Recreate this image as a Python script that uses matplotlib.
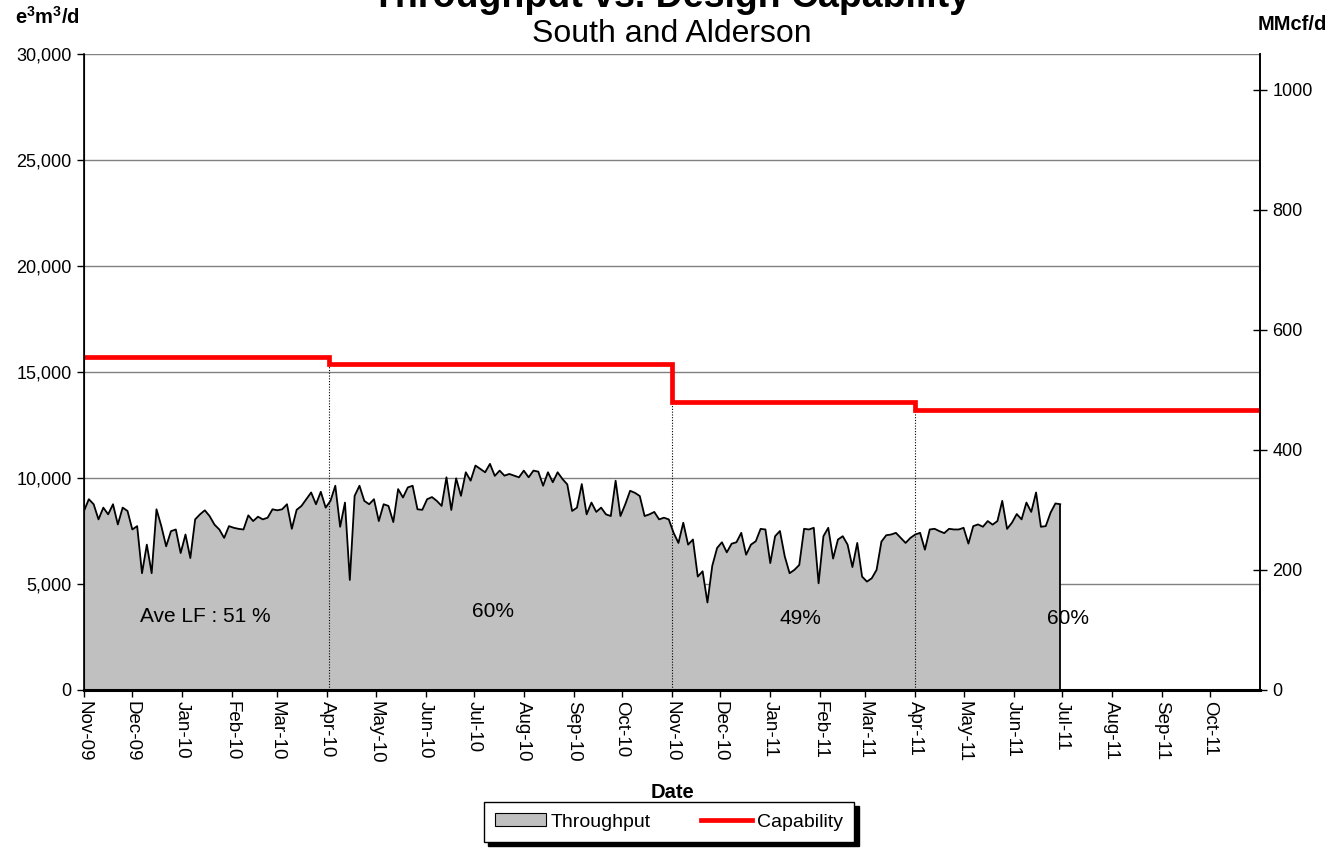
import numpy as np
import pandas as pd
import matplotlib
matplotlib.use("Agg")
import matplotlib.pyplot as plt
import matplotlib.dates as mdates
from matplotlib.patches import Patch
from matplotlib.lines import Line2D

plt.rcParams['font.family'] = ['Liberation Sans', 'DejaVu Sans']
plt.rcParams['mathtext.fontset'] = 'custom'
plt.rcParams['mathtext.rm'] = 'Liberation Sans'
plt.rcParams['mathtext.bf'] = 'Liberation Sans:bold'

# ---------------- data ----------------
throughput_start = "2009-11-01"
throughput_step_days = 3
throughput = [
    8445, 9000, 8762, 8048, 8603, 8286, 8762, 7810, 8603, 8445,
    7572, 7730, 5509, 6857, 5509, 8524, 7730, 6778, 7493, 7572,
    6461, 7334, 6223, 8048, 8286, 8476, 8200, 7800, 7572, 7175,
    7730, 7651, 7600, 7572, 8238, 7969, 8175, 8048, 8127, 8524,
    8476, 8524, 8762, 7604, 8500, 8683, 9000, 9318, 8762, 9349,
    8603, 8921, 9635, 7699, 8841, 5191, 9159, 9635, 8921, 8762,
    9000, 7969, 8762, 8683, 7921, 9476, 9080, 9556, 9635, 8524,
    8500, 9000, 9100, 8921, 8683, 10032, 8492, 9984, 9159, 10270,
    9873, 10587, 10429, 10270, 10667, 10100, 10349, 10111, 10190, 10111,
    10032, 10349, 10032, 10349, 10300, 9635, 10270, 9800, 10270, 9952,
    9700, 8445, 8600, 9714, 8286, 8841, 8400, 8603, 8286, 8206,
    9873, 8206, 8762, 9397, 9300, 9150, 8206, 8286, 8400, 8048,
    8127, 8048, 7413, 6937, 7890, 6857, 7100, 5350, 5600, 4128,
    5859, 6700, 6969, 6493, 6900, 6969, 7413, 6382, 6857, 7016,
    7600, 7572, 5986, 7255, 7500, 6302, 5509, 5668, 5900, 7604,
    7572, 7651, 5033, 7255, 7651, 6200, 7096, 7255, 6857, 5800,
    6937, 5350, 5113, 5271, 5668, 7000, 7300, 7334, 7413, 7175,
    6937, 7175, 7334, 7413, 6619, 7572, 7604, 7493, 7400, 7604,
    7572, 7572, 7651, 6905, 7730, 7810, 7700, 7969, 7800, 7969,
    8921, 7600, 7890, 8300, 8048, 8841, 8400, 9318, 7699, 7730,
    8365, 8800, 8762,
]

cap_dates = ["2009-11-01", "2010-04-02", "2010-11-01", "2011-04-01", "2011-11-01"]
cap_values = [15700, 15400, 13600, 13200, 13200]

lf_labels = ["Ave LF : 51 %", "60%", "49%", "60%"]
lf_dates = ["2010-01-15", "2010-07-13", "2011-01-20", "2011-07-05"]
lf_values = [3450, 3680, 3350, 3350]

x_start, x_end = "2009-11-01", "2011-11-01"
MMCF_PER_E3M3 = 0.0353147

# ---------------- figure ----------------
W, H = 1343, 867
fig = plt.figure(figsize=(W / 100, H / 100), dpi=100)
ax = fig.add_axes([84 / W, 1 - 690 / H, (1260 - 84) / W, (690 - 54) / H])

t_dates = pd.date_range(throughput_start, periods=len(throughput),
                        freq=f"{throughput_step_days}D")
t_vals = np.array(throughput, dtype=float)

ax.set_axisbelow(True)
ax.yaxis.grid(True, color="#808080", lw=1.0, zorder=0)

ax.fill_between(t_dates, 0, t_vals, facecolor="#C0C0C0", edgecolor="none", zorder=1)
ax.plot(t_dates, t_vals, color="black", lw=1.3, zorder=3)
ax.vlines(t_dates[-1], 0, t_vals[-1], color="black", lw=1.3, zorder=3)

cd = pd.to_datetime(cap_dates)
ax.step(cd, cap_values, where="post", color="#FF0000", lw=3.4, zorder=4,
        solid_joinstyle="miter")
for d, v in zip(cd[1:-1], cap_values[1:-1]):
    ax.vlines(d, 0, v, colors="black", linestyles=(0, (1, 1.5)), lw=0.8, zorder=3)

for lab, d, v in zip(lf_labels, pd.to_datetime(lf_dates), lf_values):
    ax.text(d, v, lab, ha="center", va="center", fontsize=15, zorder=5)

ax.set_xlim(pd.Timestamp(x_start), pd.Timestamp(x_end))
ax.set_ylim(0, 30000)
ax.set_yticks(np.arange(0, 30001, 5000))
ax.yaxis.set_major_formatter(matplotlib.ticker.FuncFormatter(lambda v, p: f"{int(v):,}"))
month_ticks = pd.date_range(x_start, x_end, freq="MS")[:-1]
ax.set_xticks(month_ticks)
ax.xaxis.set_major_formatter(mdates.DateFormatter("%b-%y"))
ax.tick_params(axis="x", direction="out", length=5, width=1, labelsize=13.5,
               labelrotation=270, pad=3)
ax.tick_params(axis="y", direction="out", length=5, width=1, labelsize=13, pad=4)
for lab in ax.get_xticklabels():
    lab.set_va("top")
    lab.set_ha("center")

ax.spines["top"].set_visible(False)
ax.spines["left"].set_linewidth(1.2)
ax.spines["bottom"].set_linewidth(2.2)
ax.spines["right"].set_linewidth(1.2)

ax2 = ax.twinx()
ax2.set_ylim(0, 30000 * MMCF_PER_E3M3)
ax2.set_yticks(np.arange(0, 1001, 200))
ax2.tick_params(axis="y", direction="inout", length=10, width=1, labelsize=13, pad=4)
ax2.spines["top"].set_visible(False)
ax2.spines["right"].set_linewidth(1.2)

# texts
fig.text(0.5, 1 - 7 / H, "Throughput vs. Design Capability", ha="center", va="baseline",
         fontsize=27, fontweight="bold")
fig.text(0.5, 1 - 34 / H, "South and Alderson", ha="center", va="center", fontsize=23)
fig.text(47 / W, 1 - 17 / H, "e$^\\mathbf{3}$m$^\\mathbf{3}$/d", ha="center", va="center",
         fontsize=14.5, fontweight="bold")
fig.text(1292 / W, 1 - 24 / H, "MMcf/d", ha="center", va="center",
         fontsize=14.5, fontweight="bold")
fig.text(672 / W, 1 - 793 / H, "Date", ha="center", va="center",
         fontsize=14.5, fontweight="bold")

handles = [Patch(facecolor="#C0C0C0", edgecolor="black", lw=0.8, label="Throughput"),
           Line2D([0], [0], color="#FF0000", lw=3.4, label="Capability")]
leg = fig.legend(handles=handles, loc="center", bbox_to_anchor=(669 / W, 1 - 822 / H),
                 ncol=2, fontsize=14, frameon=True, fancybox=False,
                 shadow={"color": "black", "alpha": 1, "ox": 3, "oy": -3},
                 edgecolor="black", handlelength=2.6, handleheight=0.6,
                 columnspacing=2.6, borderpad=0.6, handletextpad=0.25)
leg.get_frame().set_linewidth(1.0)

fig.savefig("out.png", dpi=100)
